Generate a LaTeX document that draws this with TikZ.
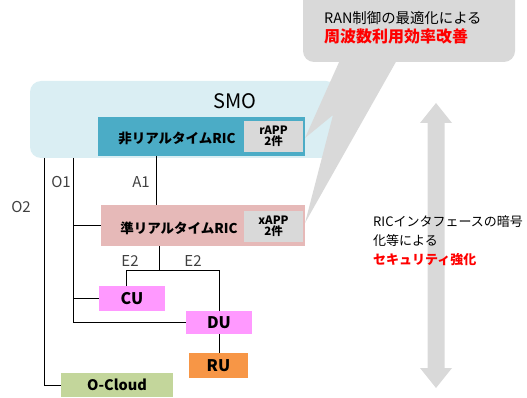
\documentclass[tikz,border=0pt]{standalone}
\usepackage{fontspec}
\setmainfont{Noto Sans CJK JP}
\usetikzlibrary{calc}
\definecolor{smobg}{HTML}{DAEEF3}
\definecolor{teal}{HTML}{4BACC6}
\definecolor{pinkbg}{HTML}{E6B9B8}
\definecolor{magbg}{HTML}{FF99FF}
\definecolor{orangebg}{HTML}{F79646}
\definecolor{greenbg}{HTML}{C3D69B}
\definecolor{callgray}{HTML}{D9D9D9}
\definecolor{labgray}{HTML}{404040}
\definecolor{alertred}{HTML}{FF0000}
\newcommand{\fs}[1]{\fontsize{#1}{#1}\selectfont}
\tikzset{
  boxn/.style={inner sep=0pt, outer sep=0pt, font=\fs{16}\bfseries},
  appbox/.style={boxn, fill=callgray, minimum width=59pt, minimum height=31pt, align=center, font=\fs{11.5}\bfseries},
  lbl/.style={inner sep=0pt, text=labgray, font=\fs{15}},
  wire/.style={draw=black, line width=0.9pt},
}
\begin{document}
\begin{tikzpicture}[x=1pt,y=-1pt]
\useasboundingbox (0,0) rectangle (527,398);
\clip (0,0) rectangle (527,398);

% SMO area
\draw[fill=smobg, draw=none, rounded corners=11pt] (30,81) rectangle (337,158);
\node[inner sep=0pt, font=\fs{20}] (smo) at (235,101) {SMO};
\coordinate (smosw) at (30,158);

% callout bubble
\fill[callgray] (340,60) -- (305,138) -- (333,115) -- (305,223) -- (397,60) -- cycle;
\fill[callgray, rounded corners=11pt] (303,-15) rectangle (515,62);
\node[inner sep=0pt, anchor=west, font=\fs{14.4}] (bub1) at (324,18) {RAN制御の最適化による};
\node[inner sep=0pt, anchor=west, font=\fs{16}\bfseries, text=alertred] (bub2) at (324,36) {周波数利用効率改善};

% vertical double arrow
\fill[callgray] (436,103) -- (452,123) -- (444.5,123) -- (444.5,368) -- (452,368) -- (436,388)
  -- (420,368) -- (427.5,368) -- (427.5,123) -- (420,123) -- cycle;
\node[inner sep=0pt, anchor=west, font=\fs{13}] (sec1) at (373,222) {RICインタフェースの暗号};
\node[inner sep=0pt, anchor=west, font=\fs{13}] (sec2) at (373,241) {化等による};
\node[inner sep=0pt, anchor=west, font=\fs{13}\bfseries, text=alertred] (sec3) at (373,260) {セキュリティ強化};

% non-RT RIC
\node[boxn, fill=teal, minimum width=207pt, minimum height=39pt] (hrc) at (201.5,136.5) {};
\node[inner sep=0pt, font=\fs{13.5}\bfseries] (hrclab) at (177,138) {非リアルタイムRIC};
\node[appbox] (rapp) at (273.5,136.5) {rAPP\\[-1pt]2件};

% near-RT RIC
\node[boxn, fill=pinkbg, minimum width=204pt, minimum height=41pt] (jrc) at (203,225.5) {};
\node[inner sep=0pt, font=\fs{13.5}\bfseries] (jrclab) at (179,228) {準リアルタイムRIC};
\node[appbox] (xapp) at (273.5,226.5) {xAPP\\[-1pt]2件};

% CU, DU, RU, O-Cloud
\node[boxn, fill=magbg, minimum width=66pt, minimum height=25pt] (cu) at (132,298.5) {CU};
\node[boxn, fill=magbg, minimum width=66pt, minimum height=23pt] (du) at (219,322.5) {DU};
\node[boxn, fill=orangebg, minimum width=59pt, minimum height=25pt] (ru) at (218.5,365.5) {RU};
\node[boxn, fill=greenbg, minimum width=112pt, minimum height=24pt, font=\fs{14.5}\bfseries] (ocloud) at (117,385) {O-Cloud};

% connectors
\coordinate (o2top) at (44,158);
\coordinate (o1top) at (73,158);
\coordinate (a1top) at (156,156);
\coordinate (e2) at (159,270);
\draw[wire] (o2top) |- (ocloud.west);
\draw[wire] (o1top) |- (du.west);
\draw[wire] (jrc.west -| o1top) -- (jrc.west);
\draw[wire] (cu.west -| o1top) -- (cu.west);
\draw[wire] (a1top) -- (a1top |- jrc.north);
\draw[wire] (jrc.south -| e2) -- (e2);
\draw[wire] ([xshift=-6pt]cu.north) |- (du.north |- e2) -- (du.north);
\draw[wire] (du.south) -- (du.south |- ru.north);

% interface labels
\node[lbl] (lo1) at (61,182) {O1};
\node[lbl] (la1) at (141,182) {A1};
\node[lbl] (lo2) at (21,207) {O2};
\node[lbl] (le2a) at (130,261) {E2};
\node[lbl] (le2b) at (193,261) {E2};
\end{tikzpicture}
\end{document}
